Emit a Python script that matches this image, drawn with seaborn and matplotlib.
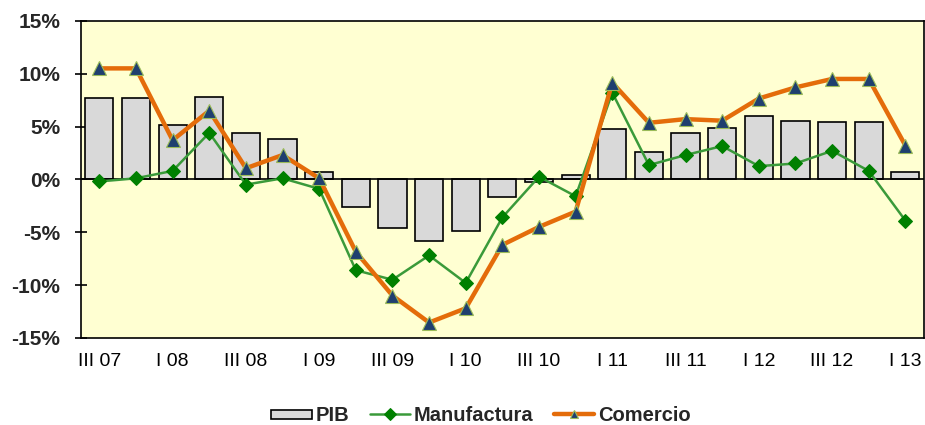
import numpy as np
import pandas as pd
import seaborn as sns
import matplotlib.pyplot as plt
from matplotlib.ticker import FuncFormatter

sns.set_theme(style='white')
plt.rcParams['font.family'] = ['Liberation Sans', 'DejaVu Sans']

# trimestres III 07 .. I 13
trimestres = ['III 07', 'IV 07', 'I 08', 'II 08', 'III 08', 'IV 08', 'I 09', 'II 09',
              'III 09', 'IV 09', 'I 10', 'II 10', 'III 10', 'IV 10', 'I 11', 'II 11',
              'III 11', 'IV 11', 'I 12', 'II 12', 'III 12', 'IV 12', 'I 13']
pib = [7.7, 7.7, 5.1, 7.8, 4.4, 3.85, 0.7, -2.6, -4.6, -5.8, -4.9, -1.7,
       -0.25, 0.4, 4.8, 2.55, 4.4, 4.85, 5.95, 5.55, 5.4, 5.4, 0.7]
manufactura = [-0.2, 0.1, 0.8, 4.4, -0.5, 0.1, -0.9, -8.6, -9.5, -7.2, -9.8, -3.6,
               0.25, -1.6, 8.2, 1.35, 2.3, 3.15, 1.25, 1.5, 2.7, 0.8, -3.9]
comercio = [10.5, 10.5, 3.7, 6.5, 1.05, 2.3, 0.1, -6.85, -11.0, -13.55, -12.2, -6.2,
            -4.5, -3.05, 9.15, 5.35, 5.7, 5.55, 7.65, 8.7, 9.5, 9.5, 3.2]

df = pd.DataFrame({'trimestre': trimestres, 'PIB': pib,
                   'Manufactura': manufactura, 'Comercio': comercio})
df['pos'] = np.arange(len(df))

fig = plt.figure(figsize=(9.25, 4.25), dpi=100)
ax = fig.add_axes([0.0876, 0.205, 0.911, 0.746])
ax.set_facecolor('#FFFFD2')

sns.barplot(data=df, x='trimestre', y='PIB', color='#D9D9D9', edgecolor='black',
            linewidth=1.2, width=0.77, saturation=1, ax=ax, label='PIB', zorder=2)
ax.axhline(0, color='black', lw=1.2, zorder=3)

sns.lineplot(data=df, x='pos', y='Manufactura', color='#3A9A3A', lw=1.8,
             marker='D', markersize=7, markerfacecolor='#008000',
             markeredgecolor='#008000', ax=ax, label='Manufactura', zorder=4)
sns.lineplot(data=df, x='pos', y='Comercio', color='#E46C0A', lw=3.2,
             marker='^', markersize=10, markerfacecolor='#1F3F6F',
             markeredgecolor='#9BBB59', markeredgewidth=0.8,
             ax=ax, label='Comercio', zorder=5)

ax.set_xlim(-0.5, len(df) - 0.5)
ax.set_ylim(-15, 15)
ax.set_yticks(range(-15, 16, 5))
ax.yaxis.set_major_formatter(FuncFormatter(lambda v, p: f'{v:.0f}%'))
ax.set_xticks(df['pos'][::2])
ax.set_xticklabels(df['trimestre'][::2])
ax.set_xlabel('')
ax.set_ylabel('')

ax.tick_params(axis='y', direction='inout', length=8, width=1.2, color='black',
               left=True, pad=11, labelsize=15)
for t in ax.get_yticklabels():
    t.set_fontweight('bold')
ax.tick_params(axis='x', length=0, pad=11, labelsize=14, labelcolor='black')

for s in ax.spines.values():
    s.set_color('black')
    s.set_linewidth(1.2)

# leyenda: PIB primero
handles, labels = ax.get_legend_handles_labels()
orden = [labels.index(n) for n in ['PIB', 'Manufactura', 'Comercio']]
leg = ax.legend([handles[i] for i in orden], [labels[i] for i in orden],
                loc='center', bbox_to_anchor=(0.52, 0.022), bbox_transform=fig.transFigure,
                ncol=3, frameon=False, prop={'weight': 'bold', 'size': 14.5},
                handlelength=2.0, handletextpad=0.2, columnspacing=1.0)
for ln in leg.get_lines():
    ln.set_markersize(6)
for p in leg.get_patches():
    h = p.get_height()
    p.set_height(h * 0.65)
    p.set_y(p.get_y() + h * 0.175)

fig.savefig('out.png', dpi=100)
